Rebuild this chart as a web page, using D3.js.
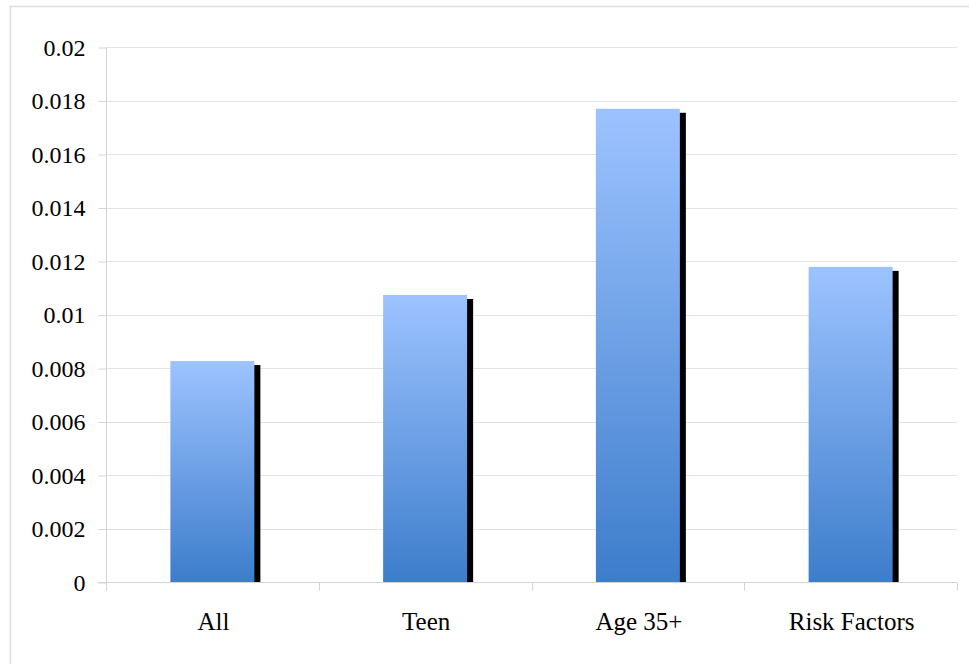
<!DOCTYPE html>
<html>
<head>
<meta charset="utf-8">
<script src="https://cdn.jsdelivr.net/npm/d3@7"></script>
<style>
  html, body { margin: 0; padding: 0; background: #fff; }
  svg { display: block; }
  text { font-family: "Liberation Serif", "Times New Roman", serif; fill: #000; }
</style>
</head>
<body>
<svg id="chart" width="969" height="664"></svg>
<script>
// Chart data
var categories = ["All", "Teen", "Age 35+", "Risk Factors"];
var values = [0.00826, 0.01073, 0.01769, 0.01178];
var yTicks = [0, 0.002, 0.004, 0.006, 0.008, 0.01, 0.012, 0.014, 0.016, 0.018, 0.02];

// Colours
var gridColour = '#e3e3e3';
var axisColour = '#d4d4d4';
var barTopColour = '#9dc3ff';
var barBottomColour = '#3d7dcb';
var shadowColour = '#000';

var svg = d3.select("#chart");
// plot box (note: "top" is reserved on window, so use plot* names)
var plotLeft = 106, plotRight = 957, plotTop = 47, plotBottom = 582;

// outer frame
svg.append("rect")
  .attr("x", 10.5).attr("y", 6.5)
  .attr("width", 980).attr("height", 680)
  .attr("fill", "none")
  .attr("stroke", "#dcdcdc")
  .attr("stroke-width", 1.5);

var x = d3.scaleBand()
  .domain(categories)
  .range([plotLeft, plotRight])
  .paddingInner(0)
  .paddingOuter(0);

var y = d3.scaleLinear()
  .domain([0, 0.02])
  .range([plotBottom, plotTop]);

var defs = svg.append("defs");
var grad = defs.append("linearGradient")
  .attr("id", "barGrad")
  .attr("x1", 0).attr("y1", 0).attr("x2", 0).attr("y2", 1);
grad.append("stop").attr("offset", "0%").attr("stop-color", barTopColour);
grad.append("stop").attr("offset", "100%").attr("stop-color", barBottomColour);

defs.append("clipPath").attr("id", "plotClip")
  .append("rect")
  .attr("x", plotLeft).attr("y", 0)
  .attr("width", plotRight - plotLeft).attr("height", plotBottom);

// gridlines
svg.append("g")
  .selectAll("line")
  .data(yTicks.slice(1))
  .enter().append("line")
  .attr("x1", plotLeft).attr("x2", plotRight)
  .attr("y1", function (d) { return Math.round(y(d)) + 0.5; })
  .attr("y2", function (d) { return Math.round(y(d)) + 0.5; })
  .attr("stroke", gridColour)
  .attr("stroke-width", 1);

// y axis
var yAxis = d3.axisLeft(y)
  .tickValues(yTicks)
  .tickSize(8)
  .tickPadding(13)
  .tickFormat(function (d) { return d === 0 ? "0" : String(+d.toFixed(3)); });

var yg = svg.append("g")
  .attr("transform", "translate(" + (plotLeft + 0.5) + ",0.5)")
  .call(yAxis);
yg.select(".domain").remove();
yg.selectAll(".tick line").attr("stroke", axisColour);
yg.selectAll(".tick text")
  .attr("font-size", 24)
  .attr("fill", "#000");
yg.append("line")
  .attr("x1", 0).attr("x2", 0)
  .attr("y1", plotTop).attr("y2", plotBottom + 8)
  .attr("stroke", axisColour);

// x axis
var xg = svg.append("g")
  .attr("transform", "translate(0," + (plotBottom + 0.5) + ")");
xg.append("line")
  .attr("x1", plotLeft - 8).attr("x2", plotRight)
  .attr("y1", 0).attr("y2", 0)
  .attr("stroke", axisColour);
var edges = categories.map(function (c) { return x(c); }).concat([plotRight]);
xg.selectAll("line.tick")
  .data(edges)
  .enter().append("line")
  .attr("class", "tick")
  .attr("x1", function (d) { return Math.round(d) + 0.5; })
  .attr("x2", function (d) { return Math.round(d) + 0.5; })
  .attr("y1", 0).attr("y2", 8)
  .attr("stroke", axisColour);
xg.selectAll("text")
  .data(categories)
  .enter().append("text")
  .attr("x", function (d) { return x(d) + x.bandwidth() / 2 + 1; })
  .attr("y", 47)
  .attr("text-anchor", "middle")
  .attr("font-size", 25)
  .text(function (d) { return d; });

// bars with shadow
var barWidth = 84;
var bars = svg.append("g").attr("clip-path", "url(#plotClip)");
bars.selectAll("rect.shadow")
  .data(values)
  .enter().append("rect")
  .attr("class", "shadow")
  .attr("x", function (d, i) { return x(categories[i]) + (x.bandwidth() - barWidth) / 2 + 6; })
  .attr("y", function (d) { return y(d) + 4; })
  .attr("width", barWidth)
  .attr("height", function (d) { return plotBottom - y(d); })
  .attr("fill", shadowColour);

bars.selectAll("rect.bar")
  .data(values)
  .enter().append("rect")
  .attr("class", "bar")
  .attr("x", function (d, i) { return x(categories[i]) + (x.bandwidth() - barWidth) / 2; })
  .attr("y", function (d) { return y(d); })
  .attr("width", barWidth)
  .attr("height", function (d) { return plotBottom - y(d); })
  .attr("fill", "url(#barGrad)");
</script>
</body>
</html>
